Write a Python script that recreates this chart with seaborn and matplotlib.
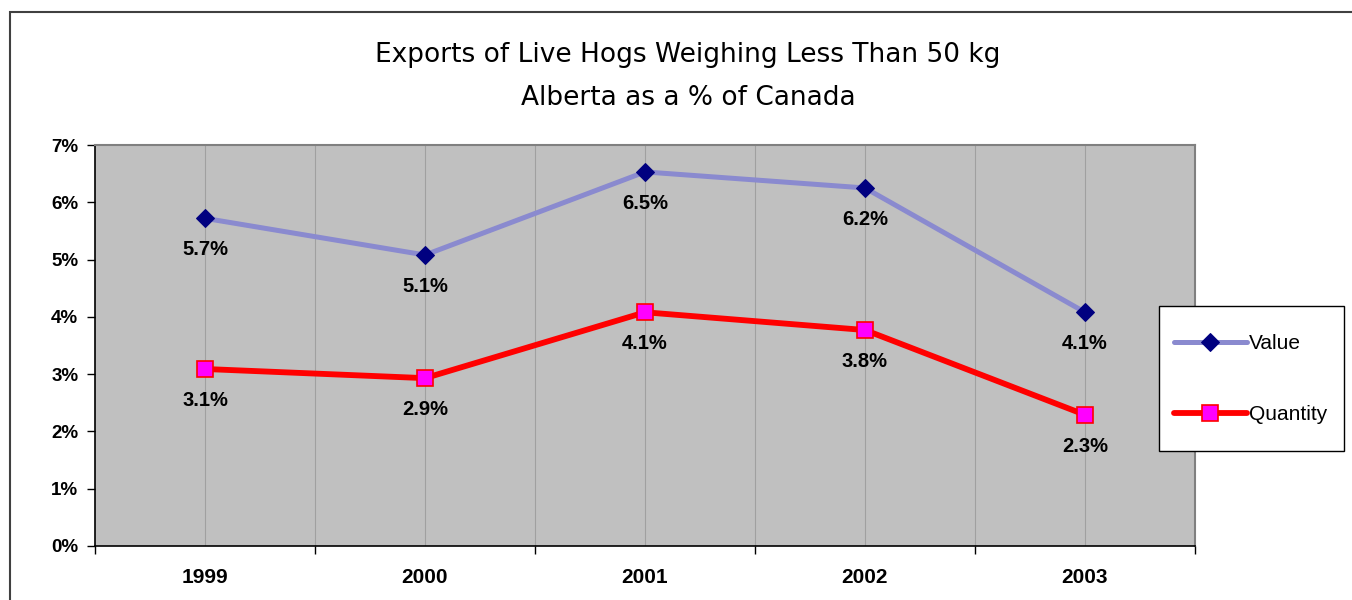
import pandas as pd
import numpy as np
import matplotlib.pyplot as plt
import seaborn as sns
from matplotlib.patches import Rectangle
from matplotlib.ticker import FuncFormatter, MultipleLocator

sns.set_style("white")
plt.rcParams['font.family'] = ['Liberation Sans', 'DejaVu Sans']
plt.rcParams['text.color'] = 'black'
plt.rcParams['xtick.color'] = 'black'
plt.rcParams['ytick.color'] = 'black'

# Data (Alberta as % of Canada)
years = ['1999', '2000', '2001', '2002', '2003']
value_pct = [5.72, 5.08, 6.53, 6.25, 4.08]
quantity_pct = [3.09, 2.93, 4.08, 3.77, 2.29]
value_labels = ['5.7%', '5.1%', '6.5%', '6.2%', '4.1%']
quantity_labels = ['3.1%', '2.9%', '4.1%', '3.8%', '2.3%']

df = pd.DataFrame({'pos': np.arange(len(years)), 'year': years,
                   'Value': value_pct, 'Quantity': quantity_pct})

fig = plt.figure(figsize=(13.52, 6), dpi=100)
ax = fig.add_axes([95 / 1352, 54 / 600, 1100 / 1352, 401 / 600])
ax.set_facecolor('#C0C0C0')

# outer chart frame
fig.patches.append(Rectangle((10 / 1352, -0.1), 1.2, (600 - 12) / 600 + 0.1,
                             transform=fig.transFigure, fill=False,
                             edgecolor='#404040', linewidth=1.5))

# vertical gridlines every half category
for g in np.arange(0, 4.6, 0.5):
    ax.axvline(g, color='#A0A0A0', linewidth=0.8, zorder=1)

sns.lineplot(data=df, x='pos', y='Value', ax=ax, color='#8A8ACF', linewidth=3.6,
             marker='D', markersize=9, markerfacecolor='#000080',
             markeredgecolor='#000080', label='Value', zorder=3)
sns.lineplot(data=df, x='pos', y='Quantity', ax=ax, color='#FF0000', linewidth=4.2,
             marker='s', markersize=11, markerfacecolor='#FF00FF',
             markeredgecolor='#FF0000', markeredgewidth=1.2, label='Quantity', zorder=3)

for i in range(len(years)):
    ax.annotate(value_labels[i], (df['pos'][i], value_pct[i]), xytext=(0, -22.5),
                textcoords='offset points', ha='center', va='center',
                fontsize=14.5, fontweight='bold')
    ax.annotate(quantity_labels[i], (df['pos'][i], quantity_pct[i]), xytext=(0, -22.5),
                textcoords='offset points', ha='center', va='center',
                fontsize=14.5, fontweight='bold')

ax.set_xlim(-0.5, 4.5)
ax.set_ylim(0, 7)
ax.yaxis.set_major_locator(MultipleLocator(1))
ax.yaxis.set_major_formatter(FuncFormatter(lambda v, p: f'{v:.0f}%'))
ax.set_xticks(np.arange(-0.5, 4.6, 1))
ax.set_xticklabels([])
ax.set_xticks(df['pos'], minor=True)
ax.set_xticklabels(years, minor=True, fontsize=15, fontweight='bold')
ax.tick_params(axis='x', which='major', direction='out', length=6, width=1, color='black', bottom=True)
ax.tick_params(axis='x', which='minor', length=0, pad=16)
ax.tick_params(axis='y', direction='out', length=6, width=1, color='black', left=True,
               labelsize=13.5, pad=6)
for lbl in ax.get_yticklabels():
    lbl.set_fontweight('bold')
ax.set_xlabel('')
ax.set_ylabel('')

for side in ['left', 'bottom']:
    ax.spines[side].set_color('black')
    ax.spines[side].set_linewidth(1.2)
for side in ['top', 'right']:
    ax.spines[side].set_color('#808080')
    ax.spines[side].set_linewidth(1.5)

# legend box drawn separately so its size matches the original
ax.add_patch(Rectangle((1159 / 1352, 1 - 451 / 600), 185 / 1352, 145 / 600,
                       transform=fig.transFigure, facecolor='white',
                       edgecolor='black', linewidth=1, zorder=5, clip_on=False))
leg = ax.legend(loc='upper left', bbox_to_anchor=(1174 / 1352, 1 - 334 / 600),
                bbox_transform=fig.transFigure, fontsize=15, frameon=False,
                handlelength=3.5, handletextpad=0.1, labelspacing=2.5,
                borderpad=0, borderaxespad=0)
leg.set_zorder(6)

fig.text(688 / 1352, 1 - 55 / 600, 'Exports of Live Hogs Weighing Less Than 50 kg',
         ha='center', va='center', fontsize=19, family='DejaVu Sans')
fig.text(688 / 1352, 1 - 98 / 600, 'Alberta as a % of Canada',
         ha='center', va='center', fontsize=19, family='DejaVu Sans')

plt.savefig('out.png', dpi=100)
plt.close()
